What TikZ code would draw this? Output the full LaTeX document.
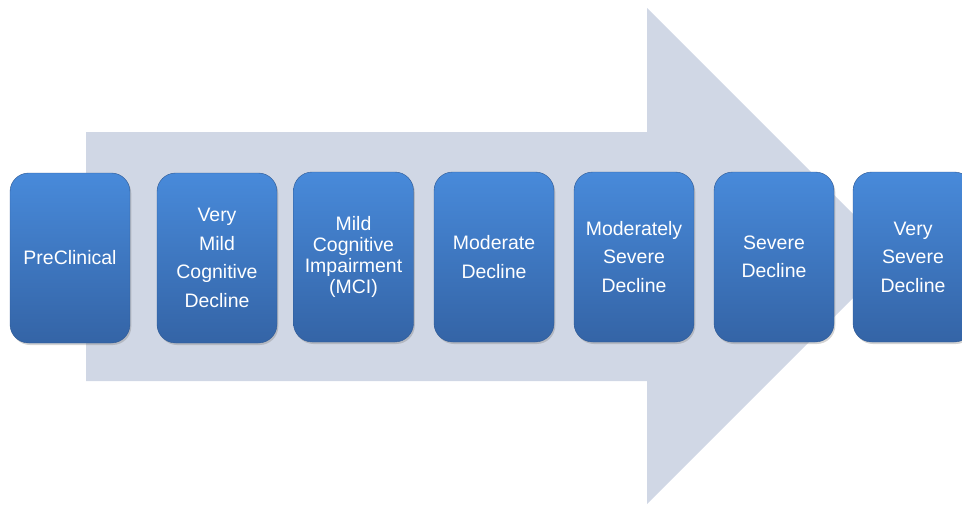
\documentclass[tikz,border=0pt]{standalone}
\usepackage{fontspec}
\setmainfont{Liberation Sans}
\usepackage{xcolor}
\usetikzlibrary{shadows}

\definecolor{arrowgray}{RGB}{208,215,229}
\definecolor{stagetop}{RGB}{72,138,218}
\definecolor{stagebot}{RGB}{52,100,166}

\begin{document}
\begin{tikzpicture}[x=0.75pt,y=-0.75pt,
    stage/.style={rounded corners=14pt, minimum width=90pt, minimum height=127.5pt,
        top color=stagetop, bottom color=stagebot, draw=stagebot!90!black, line width=0.3pt,
        drop shadow={shadow xshift=1pt, shadow yshift=-1.5pt, opacity=0.35},
        text=white, align=center, font=\fontsize{14.6}{21.4}\selectfont, inner sep=2pt}]

    \useasboundingbox (0,0) rectangle (962,504);
    \clip (0,0) rectangle (962,504);

    % big arrow behind the stages
    \fill[arrowgray] (86,132) -- (647,132) -- (647,8) -- (895,256)
        -- (647,504) -- (647,381) -- (86,381) -- cycle;

    % stages
    \node[stage] (pre)  at (70,258)    {PreClinical};
    \node[stage] (vmcd) at (217,258)   {Very\\Mild\\Cognitive\\Decline};
    \node[stage, font=\fontsize{14.6}{15.8}\selectfont] (mci) at (353.5,257) {Mild\\Cognitive\\Impairment\\(MCI)};
    \node[stage] (mod)  at (494,257)   {Moderate\\Decline};
    \node[stage] (msd)  at (634,257)   {Moderately\\Severe\\Decline};
    \node[stage] (sev)  at (774,257)   {Severe\\Decline};
    \node[stage] (vsd)  at (913,257)   {Very\\Severe\\Decline};

\end{tikzpicture}
\end{document}
